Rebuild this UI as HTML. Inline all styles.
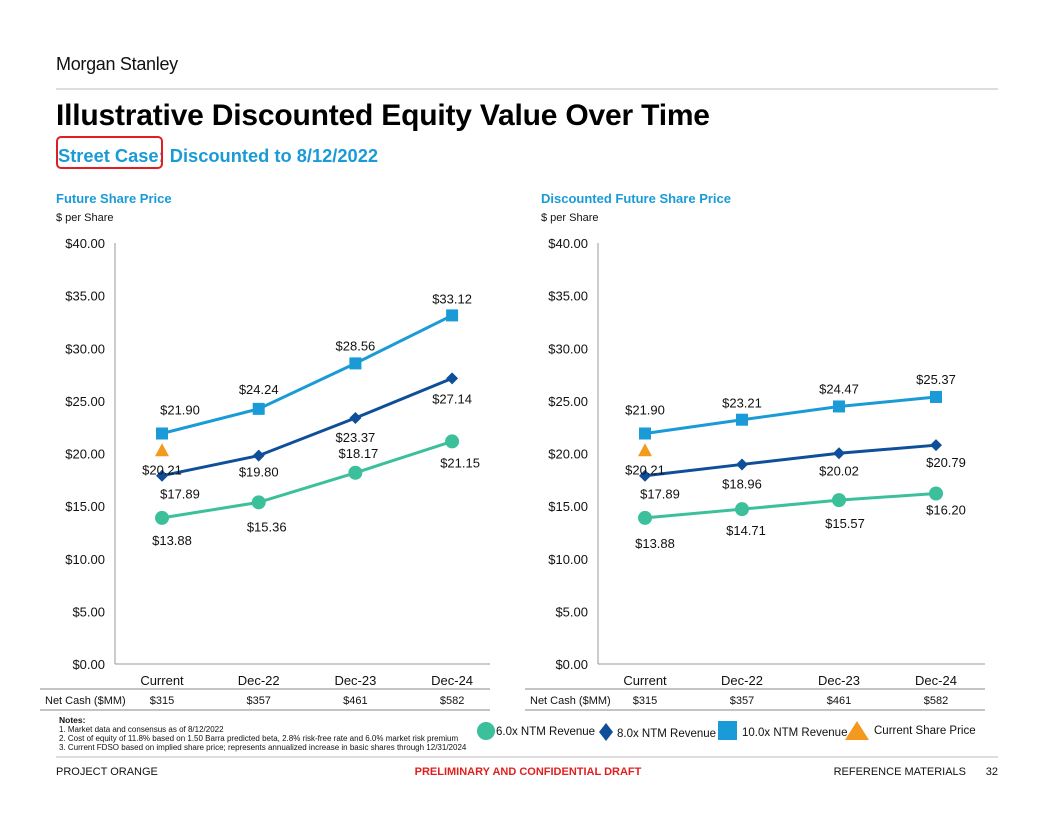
<!DOCTYPE html>
<html><head><meta charset="utf-8">
<style>
body{margin:0;background:#fff;font-family:"Liberation Sans",Arial,sans-serif;}
svg text{font-family:"Liberation Sans",Arial,sans-serif;}
</style></head>
<body>
<svg id="page" width="1056" height="816" viewBox="0 0 1056 816" xmlns="http://www.w3.org/2000/svg">
<text x="56" y="70" font-size="18" fill="#111" letter-spacing="-0.3">Morgan Stanley</text>
<line x1="56" y1="89" x2="998" y2="89" stroke="#bbb" stroke-width="1"/>
<text x="56" y="125" font-size="30" font-weight="bold" fill="#000" letter-spacing="-0.2">Illustrative Discounted Equity Value Over Time</text>
<text x="58" y="162" font-size="18.3" font-weight="bold" fill="#1a9bd7">Street Case; Discounted to 8/12/2022</text>
<rect x="57" y="137" width="105" height="31" rx="4" fill="none" stroke="#e02020" stroke-width="2"/>
<text x="56" y="203" font-size="13" font-weight="bold" fill="#1a9bd7">Future Share Price</text>
<text x="56" y="221" font-size="11" fill="#111">$ per Share</text>
<text x="541" y="203" font-size="13" font-weight="bold" fill="#1a9bd7">Discounted Future Share Price</text>
<text x="541" y="221" font-size="11" fill="#111">$ per Share</text>
<g id="charts"></g>
<text x="59" y="723" font-size="8.5" font-weight="bold" fill="#111">Notes:</text>
<text x="59" y="732" font-size="8" fill="#111">1.  Market data and consensus as of 8/12/2022</text>
<text x="59" y="741" font-size="8" fill="#111">2.  Cost of equity of 11.8% based on 1.50 Barra predicted beta, 2.8% risk-free rate and 6.0% market risk premium</text>
<text x="59" y="750" font-size="8" fill="#111">3.  Current FDSO based on implied share price; represents annualized increase in basic shares through 12/31/2024</text>
<g>
<circle cx="486" cy="731" r="9" fill="#3cc09c"/>
<text x="496" y="735" font-size="11.5" fill="#111">6.0x NTM Revenue</text>
<path d="M606,723 L613,732 L606,741 L599,732 Z" fill="#0f4f9a"/>
<text x="617" y="737" font-size="11.5" fill="#111">8.0x NTM Revenue</text>
<rect x="718" y="721" width="19" height="19" fill="#1a9bd7"/>
<text x="742" y="736" font-size="11.5" fill="#111">10.0x NTM Revenue</text>
<path d="M857,721 L869,740 L845,740 Z" fill="#f39a1e"/>
<text x="874" y="734" font-size="11.5" fill="#111">Current Share Price</text>
</g>
<line x1="56" y1="757" x2="998" y2="757" stroke="#bbb" stroke-width="1"/>
<text x="56" y="775" font-size="11" fill="#111">PROJECT ORANGE</text>
<text x="528" y="775" font-size="11" font-weight="bold" fill="#e02020" text-anchor="middle">PRELIMINARY AND CONFIDENTIAL DRAFT</text>
<text x="966" y="775" font-size="11" fill="#111" text-anchor="end">REFERENCE MATERIALS</text>
<text x="998" y="775" font-size="11" fill="#111" text-anchor="end">32</text>
</svg>
<script>
const categories = ["Current","Dec-22","Dec-23","Dec-24"];
const yTicks = [0,5,10,15,20,25,30,35,40];
const netCash = ["$315","$357","$461","$582"];
const currentPrice = 20.21;
const left10x = [21.90,24.24,28.56,33.12];
const left8x = [17.89,19.80,23.37,27.14];
const left6x = [13.88,15.36,18.17,21.15];
const right10x = [21.90,23.21,24.47,25.37];
const right8x = [17.89,18.96,20.02,20.79];
const right6x = [13.88,14.71,15.57,16.20];

const NS="http://www.w3.org/2000/svg";
const root=document.getElementById('charts');
function mk(tag,attrs,parent){const e=document.createElementNS(NS,tag);for(const k in attrs)e.setAttribute(k,attrs[k]);(parent||root).appendChild(e);return e;}
const y0=664,yTop=243,maxV=40;
function yS(v){return y0-(v/maxV)*(y0-yTop);}

function drawChart(cfg){
  const g=mk('g',{});
  
  
  const xS=i=>cfg.x0+cfg.step*i;
  const ax=mk('line',{x1:cfg.axisX,y1:yTop,x2:cfg.axisX,y2:y0,stroke:'#999','stroke-width':1},g);
  
  
  const bx=mk('line',{x1:cfg.axisX,y1:y0,x2:cfg.axisEnd,y2:y0,stroke:'#999','stroke-width':1},g);
  
  
  yTicks.forEach(t=>{
    const tx=mk('text',{x:cfg.axisX-10,y:yS(t)+5,'font-size':13,'text-anchor':'end',fill:'#111'},g);
    tx.textContent='$'+t.toFixed(2);
    
    
  });
  categories.forEach((c,i)=>{
    const tx=mk('text',{x:xS(i),y:y0+21,'font-size':13,'text-anchor':'middle',fill:'#111'},g);
    tx.textContent=c;
    
    
    const nc=mk('text',{x:xS(i),y:y0+40,'font-size':11,'text-anchor':'middle',fill:'#111'},g);
    nc.textContent=netCash[i];
    
    
  });
  const r1=mk('line',{x1:cfg.tableX,y1:y0+25,x2:cfg.axisEnd,y2:y0+25,stroke:'#b0b0b0','stroke-width':1.5},g);
  
  
  const r2=mk('line',{x1:cfg.tableX,y1:y0+46,x2:cfg.axisEnd,y2:y0+46,stroke:'#b0b0b0','stroke-width':1.5},g);
  
  
  const nl=mk('text',{x:cfg.tableX+5,y:y0+40,'font-size':11,fill:'#111'},g);
  nl.textContent='Net Cash ($MM)';
  
  

  cfg.series.forEach(s=>{
    const pts=s.values.map((v,i)=>xS(i)+','+yS(v)).join(' ');
    const pl=mk('polyline',{points:pts,fill:'none',stroke:s.color,'stroke-width':3},g);
    
    
    s.values.forEach((v,i)=>{
      const x=xS(i),y=yS(v);let m;
      if(s.shape==='circle') m=mk('circle',{cx:x,cy:y,r:7,fill:s.color},g);
      else if(s.shape==='square') m=mk('rect',{x:x-6,y:y-6,width:12,height:12,fill:s.color},g);
      else m=mk('path',{d:`M${x},${y-6} L${x+6},${y} L${x},${y+6} L${x-6},${y} Z`,fill:s.color},g);
      
      
      const lb=mk('text',{x:x+s.dx[i],y:y+s.dy[i]+5,'font-size':13,'text-anchor':'middle',fill:'#111'},g);
      lb.textContent='$'+v.toFixed(2);
      
      
    });
  });
  const tx0=xS(0),ty=yS(currentPrice);
  const tri=mk('path',{d:`M${tx0},${ty-8} L${tx0+7},${ty+5} L${tx0-7},${ty+5} Z`,fill:'#f39a1e'},g);
  
  
  const tl=mk('text',{x:tx0,y:ty+23,'font-size':13,'text-anchor':'middle',fill:'#111'},g);
  tl.textContent='$'+currentPrice.toFixed(2);
  
  
}

drawChart({name:'future-share-price-chart',axisX:115,axisEnd:490,tableX:40,x0:162,step:96.7,series:[
 {name:'ntm-10x',values:left10x,color:'#1a9bd7',shape:'square',dx:[18,0,0,0],dy:[-24,-20,-18,-17]},
 {name:'ntm-8x',values:left8x,color:'#0f4f9a',shape:'diamond',dx:[18,0,0,0],dy:[18,16,19,20]},
 {name:'ntm-6x',values:left6x,color:'#3cc09c',shape:'circle',dx:[10,8,3,8],dy:[22,24,-20,21]}
]});
drawChart({name:'discounted-share-price-chart',axisX:598,axisEnd:985,tableX:525,x0:645,step:97,series:[
 {name:'ntm-10x',values:right10x,color:'#1a9bd7',shape:'square',dx:[0,0,0,0],dy:[-24,-17,-18,-18]},
 {name:'ntm-8x',values:right8x,color:'#0f4f9a',shape:'diamond',dx:[15,0,0,10],dy:[18,19,17,17]},
 {name:'ntm-6x',values:right6x,color:'#3cc09c',shape:'circle',dx:[10,4,6,10],dy:[25,21,23,16]}
]});
</script>
</body></html>
